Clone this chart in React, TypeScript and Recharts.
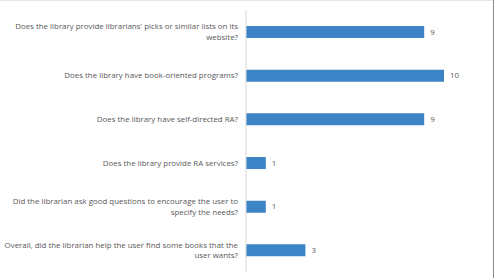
import React from "react";
import { BarChart, Bar, XAxis, YAxis, LabelList } from "recharts";

const categories: string[] = [
  "Does the library provide librarians' picks or similar lists on its\nwebsite?",
  "Does the library have book-oriented programs?",
  "Does the library have self-directed RA?",
  "Does the library provide RA services?",
  "Did the librarian ask good questions to encourage the user to\nspecify the needs?",
  "Overall, did the librarian help the user find some books that the\nuser wants?",
];
const values: number[] = [9, 10, 9, 1, 1, 3];

const data = categories.map((c, i) => ({ name: c, value: values[i] }));

const FONT = "'Open Sans', sans-serif";
const TEXT = "#595959";
const FS = 7.9;

const Tick = (props: any) => {
  const { x, y, payload } = props;
  const lines: string[] = String(payload.value).split("\n");
  const lh = 10.5;
  const start = y - ((lines.length - 1) * lh) / 2;
  return (
    <text x={x} y={start} textAnchor="end" fill={TEXT} fontFamily={FONT} fontSize={FS}>
      {lines.map((l, i) => (
        <tspan key={i} x={x} y={start + i * lh} dy="0.35em">
          {l}
        </tspan>
      ))}
    </text>
  );
};

export default function App() {
  return (
    <div style={{ position: "absolute", left: 0, top: 0, width: 495, height: 278, background: "#fff" }}>
      <div style={{ position: "absolute", left: 0, top: 0, width: 494, height: 1, background: "#e6e6e6" }} />
      <div style={{ position: "absolute", left: 493, top: 0, width: 1, height: 278, background: "#8c8c8c" }} />
      <BarChart
        width={495}
        height={278}
        data={data}
        layout="vertical"
        margin={{ top: 10, right: 51, bottom: 6, left: 0 }}
      >
        <XAxis type="number" domain={[0, 10]} hide />
        <YAxis
          type="category"
          dataKey="name"
          width={246}
          axisLine={{ stroke: "#d9d9d9" }}
          tickLine={false}
          tick={<Tick />}
          interval={0}
        />
        <Bar dataKey="value" fill="#3d84c6" barSize={12} isAnimationActive={false}>
          <LabelList
            dataKey="value"
            position="right"
            offset={6}
            fill={TEXT}
            fontFamily={FONT}
            fontSize={FS}
          />
        </Bar>
      </BarChart>
    </div>
  );
}
